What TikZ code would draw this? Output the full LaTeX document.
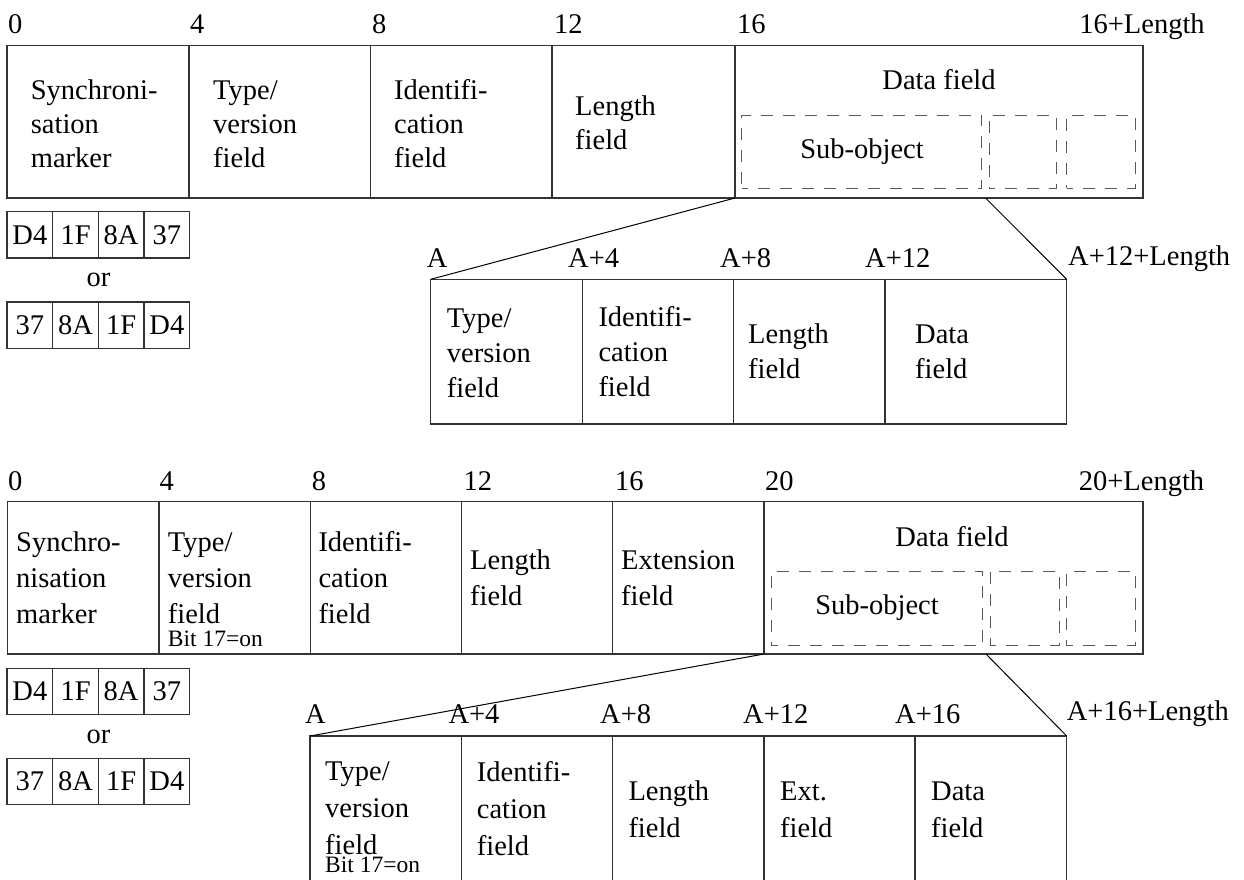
\documentclass[tikz,border=0pt]{standalone}
\usepackage{fontspec}
\setmainfont{Liberation Serif}
\newcommand{\mlines}[1]{\begin{tabular}[t]{@{}l@{}}#1\end{tabular}}
\begin{document}
\begin{tikzpicture}[x=1pt,y=-1pt,
  cell/.style={draw=black!80, line width=1.4pt, inner sep=0pt, outer sep=0pt, anchor=north west},
  byte/.style={draw=black!80, line width=1.2pt, inner sep=0pt, outer sep=0pt, anchor=north west,
    minimum width=45.7pt, minimum height=46.3pt, font=\fontsize{28.5}{34}\selectfont},
  subobj/.style={draw=black!65, line width=1pt, dash pattern=on 12pt off 10pt, dash phase=6pt,
    inner sep=0pt, outer sep=0pt, anchor=north west},
  txt/.style={inner sep=0pt, anchor=base west, font=\fontsize{28.5}{#1}\selectfont},
  txt/.default=35,
  ctxt/.style={inner sep=0pt, anchor=base, font=\fontsize{28.5}{34}\selectfont},
  small/.style={inner sep=0pt, anchor=base west, font=\fontsize{23.5}{25}\selectfont},
  link/.style={draw=black, line width=1pt}]
\useasboundingbox (0,0) rectangle (1244,879);

% ================= TOP DIAGRAM =================
\node[txt] (tl0) at (8,33) {0};
\node[txt] (tl4) at (190,33) {4};
\node[txt] (tl8) at (372,33) {8};
\node[txt] (tl12) at (554,33) {12};
\node[txt] (tl16) at (737,33) {16};
\node[ctxt] (tlL) at (1142,33) {16+Length};

\node[cell, minimum width=182pt, minimum height=152.3pt] (t1) at (7,45.7) {};
\node[cell, minimum width=181.7pt, minimum height=152.3pt] (t2) at (189,45.7) {};
\node[cell, minimum width=181.3pt, minimum height=152.3pt] (t3) at (370.7,45.7) {};
\node[cell, minimum width=183pt, minimum height=152.3pt] (t4) at (552,45.7) {};
\node[cell, minimum width=408pt, minimum height=152.3pt] (tD) at (735,45.7) {};

\node[txt=34] (t1x) at (30.7,99) {\mlines{Synchroni-\\sation\\marker}};
\node[txt=34] (t2x) at (213,99) {\mlines{Type/\\version\\field}};
\node[txt=34] (t3x) at (394,99) {\mlines{Identifi-\\cation\\field}};
\node[txt=34] (t4x) at (575,115) {\mlines{Length\\field}};
\node[ctxt] (tDx) at (939,89.3) {Data field};

\node[subobj, minimum width=240pt, minimum height=73pt] (ts1) at (741.7,115) {};
\node[subobj, minimum width=67.7pt, minimum height=73pt] (ts2) at (989,115) {};
\node[subobj, minimum width=68.3pt, minimum height=73pt] (ts3) at (1066.7,115) {};
\node[ctxt] (ts1x) at (862,158) {Sub-object};

% sync bytes
\node[byte] (tb1) at (7,211.7) {D4};
\node[byte] (tb2) at (52.7,211.7) {1F};
\node[byte] (tb3) at (98.3,211.7) {8A};
\node[byte] (tb4) at (144,211.7) {37};
\node[ctxt] (tor) at (98.5,286.7) {or};
\node[byte] (tc1) at (7,302) {37};
\node[byte] (tc2) at (52.7,302) {8A};
\node[byte] (tc3) at (98.3,302) {1F};
\node[byte] (tc4) at (144,302) {D4};

% sub-object expansion
\node[txt] (al0) at (426.7,267) {A};
\node[txt] (al4) at (568,267) {A+4};
\node[txt] (al8) at (720,267) {A+8};
\node[txt] (al12) at (865,267) {A+12};
\node[txt] (alL) at (1068,265) {A+12+Length};

\node[cell, minimum width=152pt, minimum height=144.7pt] (a1) at (430.7,279.3) {};
\node[cell, minimum width=150.6pt, minimum height=144.7pt] (a2) at (582.7,279.3) {};
\node[cell, minimum width=151.7pt, minimum height=144.7pt] (a3) at (733.3,279.3) {};
\node[cell, minimum width=181.7pt, minimum height=144.7pt] (a4) at (885,279.3) {};

\node[txt=35] (a1x) at (446.7,327) {\mlines{Type/\\version\\field}};
\node[txt=35] (a2x) at (598.3,326) {\mlines{Identifi-\\cation\\field}};
\node[txt=35] (a3x) at (748,343.3) {\mlines{Length\\field}};
\node[txt=35] (a4x) at (915,343.3) {\mlines{Data\\field}};

\coordinate (tcut) at (985.5,198);
\draw[link] (tD.south west) -- (a1.north west);
\draw[link] (tcut) -- (a4.north east);

% ================= BOTTOM DIAGRAM =================
\node[txt] (bl0) at (8,490) {0};
\node[txt] (bl4) at (159.5,490) {4};
\node[txt] (bl8) at (311.7,490) {8};
\node[txt] (bl12) at (463.3,490) {12};
\node[txt] (bl16) at (615,490) {16};
\node[txt] (bl20) at (765,490) {20};
\node[ctxt] (blL) at (1141.5,490) {20+Length};

\node[cell, minimum width=151.7pt, minimum height=152.3pt] (b1) at (7.3,501.7) {};
\node[cell, minimum width=151.7pt, minimum height=152.3pt] (b2) at (159,501.7) {};
\node[cell, minimum width=151pt, minimum height=152.3pt] (b3) at (310.7,501.7) {};
\node[cell, minimum width=151pt, minimum height=152.3pt] (b4) at (461.7,501.7) {};
\node[cell, minimum width=151.3pt, minimum height=152.3pt] (b5) at (612.7,501.7) {};
\node[cell, minimum width=379pt, minimum height=152.3pt] (bD) at (764,501.7) {};

\node[txt=36] (b1x) at (16,551.7) {\mlines{Synchro-\\nisation\\marker}};
\node[txt=36] (b2x) at (167.7,551.7) {\mlines{Type/\\version\\field}};
\node[small] (b2s) at (167.7,646.7) {Bit 17=on};
\node[txt=36] (b3x) at (318.3,551.7) {\mlines{Identifi-\\cation\\field}};
\node[txt=36] (b4x) at (470,569.3) {\mlines{Length\\field}};
\node[txt=36] (b5x) at (621,569.3) {\mlines{Extension\\field}};
\node[ctxt] (bDx) at (952,546) {Data field};

\node[subobj, minimum width=210.3pt, minimum height=74.7pt] (bs1) at (771.7,571) {};
\node[subobj, minimum width=69pt, minimum height=74.7pt] (bs2) at (990,571) {};
\node[subobj, minimum width=68.3pt, minimum height=74.7pt] (bs3) at (1066.7,571) {};
\node[ctxt] (bs1x) at (877,614) {Sub-object};

% sync bytes
\node[byte] (bb1) at (7,668.3) {D4};
\node[byte] (bb2) at (52.7,668.3) {1F};
\node[byte] (bb3) at (98.3,668.3) {8A};
\node[byte] (bb4) at (144,668.3) {37};
\node[ctxt] (bor) at (98.5,743.3) {or};
\node[byte] (bc1) at (7,758.3) {37};
\node[byte] (bc2) at (52.7,758.3) {8A};
\node[byte] (bc3) at (98.3,758.3) {1F};
\node[byte] (bc4) at (144,758.3) {D4};

% sub-object expansion
\node[txt] (cl0) at (305,723) {A};
\node[txt] (cl4) at (448.3,723) {A+4};
\node[txt] (cl8) at (600,723) {A+8};
\node[txt] (cl12) at (743,723) {A+12};
\node[txt] (cl16) at (895,723) {A+16};
\node[txt] (clL) at (1066.7,720) {A+16+Length};

\node[cell, minimum width=151.7pt, minimum height=146pt] (c1) at (310,736) {};
\node[cell, minimum width=151pt, minimum height=146pt] (c2) at (461.7,736) {};
\node[cell, minimum width=151.3pt, minimum height=146pt] (c3) at (612.7,736) {};
\node[cell, minimum width=151pt, minimum height=146pt] (c4) at (764,736) {};
\node[cell, minimum width=151.7pt, minimum height=146pt] (c5) at (915,736) {};

\node[txt=37] (c1x) at (325,780) {\mlines{Type/\\version\\field}};
\node[small] (c1s) at (325,872.7) {Bit 17=on};
\node[txt=37] (c2x) at (476.7,781) {\mlines{Identifi-\\cation\\field}};
\node[txt=37] (c3x) at (628.3,800) {\mlines{Length\\field}};
\node[txt=37] (c4x) at (780,800) {\mlines{Ext.\\field}};
\node[txt=37] (c5x) at (931,800) {\mlines{Data\\field}};

\coordinate (bcut) at (986,654);
\draw[link] (bD.south west) -- (c1.north west);
\draw[link] (bcut) -- (c5.north east);
\end{tikzpicture}
\end{document}
